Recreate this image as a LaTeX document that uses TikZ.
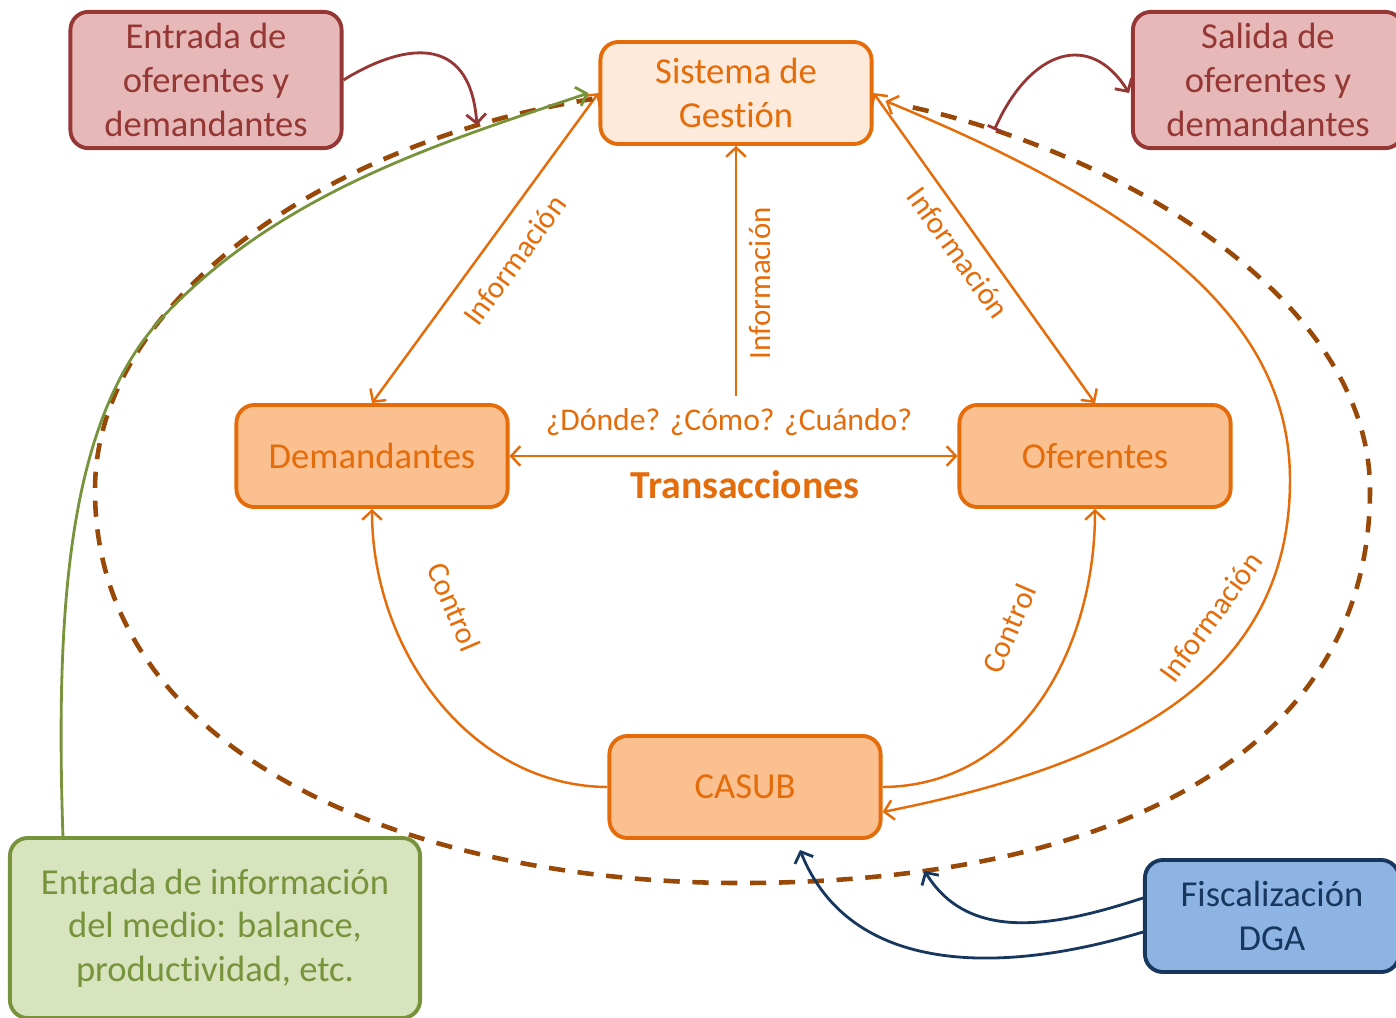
\documentclass[tikz,border=0pt]{standalone}
\usepackage{fontspec}
\setmainfont{Carlito}[Ligatures=NoCommon]
\usepackage{xcolor}
\usetikzlibrary{
	arrows.meta,
	positioning,
	calc
}

\definecolor{naranja}{HTML}{E46C0A}
\definecolor{durazno}{HTML}{FDEADA}
\definecolor{salmon}{HTML}{FAC090}
\definecolor{granate}{HTML}{953735}
\definecolor{rosado}{HTML}{E6B9B8}
\definecolor{oliva}{HTML}{77933C}
\definecolor{verdeclaro}{HTML}{D7E4BD}
\definecolor{marino}{HTML}{17375E}
\definecolor{celeste}{HTML}{8EB4E3}
\definecolor{cafe}{HTML}{984807}

\tikzset{
	caja/.style={draw, rounded corners=0.18cm, line width=1.1pt, align=center,
		minimum width=2.71cm, minimum height=1.02cm,
		font=\fontsize{10.4}{12.4}\selectfont},
	central/.style={caja, draw=naranja, fill=durazno, text=naranja},
	actor/.style={caja, draw=naranja, fill=salmon, text=naranja},
	flujo/.style={caja, draw=granate, fill=rosado, text=granate, minimum height=1.36cm},
	medio/.style={caja, draw=oliva, fill=verdeclaro, text=oliva,
		minimum width=4.10cm, minimum height=1.80cm},
	fisca/.style={caja, draw=marino, fill=celeste, text=marino,
		minimum width=2.54cm, minimum height=1.12cm},
	etiqueta/.style={text=naranja, font=\fontsize{8.8}{10}\selectfont},
	conector/.style={draw=naranja, line width=0.7pt},
	borde/.style={draw=cafe, line width=1.3pt, dash pattern=on 4.6pt off 3.6pt},
	lineaverde/.style={draw=oliva, line width=0.8pt},
	lineagranate/.style={draw=granate, line width=0.8pt},
	lineaazul/.style={draw=marino, line width=0.8pt}
}

\begin{document}
\begin{tikzpicture}[x=0.01cm, y=-0.01cm, >={Straight Barb[length=2.6pt,width=5.6pt]}]
		
		\useasboundingbox (0,0) rectangle (1396,1017);
		
		% Cajas
		\node[central] (sistema) at (736,93) {Sistema de\\Gestión};
		\node[actor] (dem) at (372,456) {Demandantes};
		\node[actor] (ofe) at (1095,456) {Oferentes};
		\node[actor] (casub) at (745,787) {CASUB};
		\node[flujo] (entrada) at (206,80) {Entrada de\\oferentes y\\demandantes};
		\node[flujo, minimum width=2.70cm] (salida) at (1268,80) {Salida de\\oferentes y\\demandantes};
		\node[medio] (medio) at (215,928) {Entrada de información\\del medio: balance,\\productividad, etc.};
		\node[fisca] (fisc) at (1272,916) {Fiscalización\\DGA};
		
		% Transacciones
		\node[etiqueta, font=\fontsize{9}{11}\selectfont] (preg) at (729,422) {¿Dónde? ¿Cómo? ¿Cuándo?};
		\node[text=naranja, font=\fontsize{11.3}{13}\selectfont\bfseries] (trans) at (745,485) {Transacciones};
		\draw[conector, <->] (dem.east) -- (ofe.west);
		
		% Información
		\draw[conector, <->] (dem.north) -- node[etiqueta, pos=0.52, below=2pt, sloped] (infodem) {Información} (sistema.west);
		\draw[conector, ->] (sistema.south |- preg.north) -- node[etiqueta, pos=0.45, below, sloped] (infosis) {Información} (sistema.south);
		\draw[conector, <->] (sistema.east) -- node[etiqueta, pos=0.47, below, sloped] (infoofe) {Información} (ofe.north);
		\draw[conector, <->] ($(casub.east)+(0,25)$)
		.. controls (1120,765) and (1290,680) .. (1290,480)
		node[etiqueta, pos=0.68, above=4pt, sloped] (infocasub) {Información}
		.. controls (1290,320) and (1150,210) .. ($(sistema.east)+(12,8)$);
		
		% Control
		\draw[conector, <-] (dem.south)
		.. controls (372,650) and (470,786) .. (casub.west)
		node[etiqueta, pos=0.3, above=11pt, sloped] (ctrldem) {Control};
		\draw[conector, ->] (casub.east)
		.. controls (1020,786) and (1095,650) .. (ofe.south)
		node[etiqueta, pos=0.64, above=11pt, sloped] (ctrlofe) {Control};
		
		% Borde del sistema
		\draw[borde] ($(sistema.west)+(-6,6)$)
		.. controls (330,140) and (95,300) .. (95,490) coordinate[pos=0.15] (pieentrada)
		.. controls (95,760) and (420,883) .. (740,883)
		.. controls (1100,883) and (1370,760) .. (1370,490) coordinate[pos=0.18] (piedga)
		.. controls (1370,300) and (1120,150) .. ($(sistema.east)+(28,12)$) coordinate[pos=0.86] (piesalida);
		
		% Entradas y salidas
		\draw[lineagranate, ->] (entrada.east) .. controls (400,45) and (470,30) .. (pieentrada);
		\draw[lineagranate, {Bar[width=4.5pt]}->] (piesalida)
		.. controls (1030,50) and (1090,30) .. ($(salida.west)+(-2,13)$);
		\draw[lineaverde, ->] ($(medio.north west)+(55,0)$)
		.. controls (55,600) and (70,420) .. (160,320)
		.. controls (280,190) and (450,140) .. ($(sistema.west)+(-10,0)$);
		
		% Fiscalizacion
		\draw[lineaazul, ->] ($(fisc.west)+(0,-18)$) .. controls (1060,925) and (970,945) .. (piedga);
		\draw[lineaazul, ->] ($(fisc.west)+(0,16)$)
		.. controls (1000,975) and (850,975) .. ($(casub.south)+(55,10)$);
		
	\end{tikzpicture}
\end{document}
